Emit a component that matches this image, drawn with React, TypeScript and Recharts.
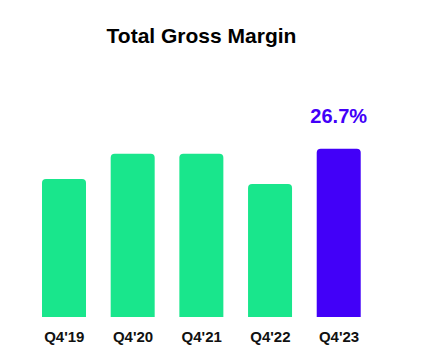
import React from "react";
import { BarChart, Bar, XAxis, YAxis, Cell, LabelList } from "recharts";

const categories = ["Q4'19", "Q4'20", "Q4'21", "Q4'22", "Q4'23"];
const margins = [21.9, 25.9, 25.9, 21.1, 26.7];
const valueLabels = ["", "", "", "", "26.7%"];
const highlightIndex = 4;

const GREEN = "#19E68C";
const PURPLE = "#4200F8";

const data = categories.map((c, i) => ({ name: c, value: margins[i], label: valueLabels[i] }));

const FONT = "'Liberation Sans', Arial, Helvetica, sans-serif";

const Tick = (props: any) => {
  const { x, y, payload } = props;
  return (
    <text x={x} y={y + 25} textAnchor="middle" fontFamily={FONT} fontWeight="bold" fontSize={15} fill="#111">
      {payload.value}
    </text>
  );
};

const TopLabel = (props: any) => {
  const { x, y, width, value } = props;
  if (!value) return null;
  return (
    <text x={x + width / 2} y={y - 26} textAnchor="middle" fontFamily={FONT} fontWeight="bold" fontSize={20} fill={PURPLE}>
      {value}
    </text>
  );
};

export default function App() {
  return (
    <div style={{ position: "absolute", left: 0, top: 0, width: 436, height: 359, background: "#fff" }}>
      <div
        style={{
          position: "absolute",
          left: 0,
          top: 25,
          width: 403,
          textAlign: "center",
          fontFamily: FONT,
          fontWeight: "bold",
          fontSize: 21,
          lineHeight: "21px",
          color: "#000",
        }}
      >
        Total Gross Margin
      </div>
      <BarChart width={436} height={359} data={data} margin={{ top: 128, right: 62.6, bottom: 12, left: 30 }}>
        <XAxis dataKey="name" axisLine={false} tickLine={false} tickSize={0} tickMargin={0} height={30} tick={<Tick />} interval={0} />
        <YAxis hide domain={[0, 30]} />
        <Bar dataKey="value" barSize={44} radius={[4, 4, 0, 0]} isAnimationActive={false}>
          {data.map((d, i) => (
            <Cell key={d.name} fill={i === highlightIndex ? PURPLE : GREEN} />
          ))}
          <LabelList dataKey="label" content={<TopLabel />} />
        </Bar>
      </BarChart>
    </div>
  );
}
